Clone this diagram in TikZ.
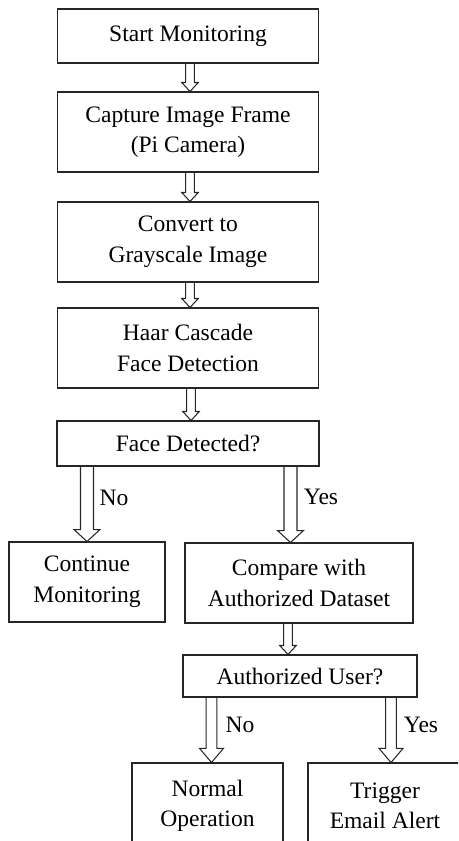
\documentclass[tikz,border=0pt]{standalone}
\usepackage{fontspec}
\setmainfont{Liberation Serif}
\usetikzlibrary{calc}
\tikzset{box/.style={draw=black!85,line width=0.6pt,inner sep=0pt,align=center}}
\tikzset{arrshaft/.store in=\shaftw,arrhead/.store in=\headw,arrlen/.store in=\headl,
  arrshaft=2.45pt,arrhead=4.7pt,arrlen=5.1pt}
\tikzset{blockarrow/.style={draw=black!85,line width=0.6pt,to path={
  let \p1=(\tikztostart), \p2=(\tikztotarget) in
  (\x1-\shaftw,\y1) -- (\x1-\shaftw,\y2+\headl) -- (\x1-\headw,\y2+\headl) -- (\x1,\y2)
  -- (\x1+\headw,\y2+\headl) -- (\x1+\shaftw,\y2+\headl) -- (\x1+\shaftw,\y1)}}}
\tikzset{wide/.style={arrshaft=3.7pt,arrhead=7.4pt,arrlen=6.8pt}}

\begin{document}
\begin{tikzpicture}[x=0.02cm,y=-0.02cm,font=\fontsize{13.4}{17.4}\selectfont]
    \useasboundingbox (0,0) rectangle (458,841);
    \clip (0,0) rectangle (458,841);
    % main column
    \node[box,minimum width=5.22cm,minimum height=1.08cm] (start) at (188,36) {Start Monitoring};
    \node[box,minimum width=5.22cm,minimum height=1.6cm] (cap) at (188,132) {Capture Image Frame\\(Pi Camera)};
    \node[box,minimum width=5.22cm,minimum height=1.6cm] (gray) at (188,242) {Convert to\\Grayscale Image};
    \node[box,minimum width=5.22cm,minimum height=1.6cm] (haar) at (188,348) {Haar Cascade\\Face Detection};
    \node[box,minimum width=5.24cm,minimum height=0.9cm] (face) at (188,443.5) {Face Detected?};
    % branches
    \node[box,minimum width=3.12cm,minimum height=1.6cm] (cont) at (87,582) {Continue\\Monitoring};
    \node[box,minimum width=4.56cm,minimum height=1.6cm] (cmp) at (299,583) {Compare with\\Authorized Dataset};
    \node[box,minimum width=4.68cm,minimum height=0.84cm] (auth) at (300,676) {Authorized User?};
    \node[box,minimum width=3.02cm,minimum height=1.72cm] (norm) at (207.5,806) {Normal\\Operation};
    \node[box,minimum width=3.08cm,minimum height=1.72cm] (alert) at (385,806) {Trigger\\Email Alert};
    % arrows
    \draw[blockarrow] ([xshift=0.04cm]start.south) to (cap.north);
    \draw[blockarrow] ([xshift=0.04cm]cap.south) to (gray.north);
    \draw[blockarrow] ([xshift=0.04cm]gray.south) to (haar.north);
    \draw[blockarrow] ([xshift=0.06cm]haar.south) to (face.north);
    \draw[blockarrow,wide] (cont.north |- face.south) to (cont.north);
    \draw[blockarrow,wide] ([xshift=-0.17cm]cmp.north |- face.south) to (cmp.north);
    \draw[blockarrow] ([xshift=-0.22cm]cmp.south) to (auth.north);
    \draw[blockarrow,arrshaft=3.1pt,arrhead=6.8pt,arrlen=8pt] ([xshift=0.08cm]norm.north |- auth.south) to (norm.north);
    \draw[blockarrow,arrshaft=3.1pt,arrhead=6.8pt,arrlen=8pt] ([xshift=0.12cm]alert.north |- auth.south) to (alert.north);
    % labels
    \node (no1) at (114,498) {No};
    \node (yes1) at (321,497) {Yes};
    \node (no2) at (240,725) {No};
    \node (yes2) at (421,725) {Yes};
\end{tikzpicture}
\end{document}
